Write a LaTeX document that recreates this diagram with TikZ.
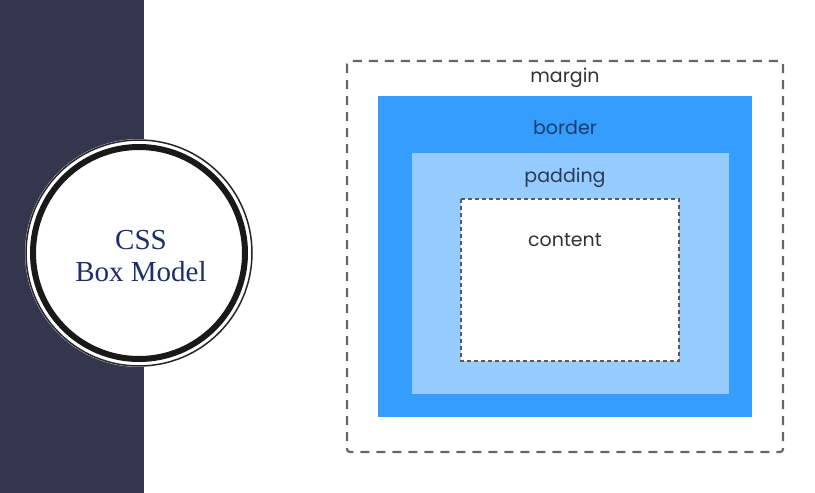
\documentclass[tikz,border=0pt]{standalone}
\usepackage{fontspec}
\setmainfont{Liberation Serif}
\newfontfamily\labelfont{Poppins}
\definecolor{panel}{HTML}{34364E}
\definecolor{borderblue}{HTML}{349DFE}
\definecolor{padblue}{HTML}{96CBFE}
\definecolor{dashgray}{HTML}{666666}
\definecolor{titleblue}{HTML}{1C2E6B}
\definecolor{labelgray}{HTML}{333333}
\definecolor{borderlabel}{HTML}{1A3E6E}
\definecolor{padlabel}{HTML}{2A3A55}
\tikzset{
  lbl/.style={font=\labelfont\fontsize{19}{22}\selectfont, anchor=center, inner sep=0pt},
}
\begin{document}
\begin{tikzpicture}[x=1pt,y=-1pt]
\useasboundingbox (0,0) rectangle (815,493);
\fill[white] (0,0) rectangle (815,493);
\fill[panel] (0,0) rectangle (144,493);
% circle
\fill[white] (139,253) circle (114);
\draw[black!85, line width=1.5pt] (139,253) circle (113);
\draw[black!90, line width=6pt] (139,253) circle (106);
\node[font=\fontsize{29}{32}\selectfont, text=titleblue, align=center] (title) at (141,256) {CSS\\Box Model};
% box model
\draw[dashgray, line width=2.2pt, dash pattern=on 9pt off 7pt, rounded corners=3pt] (347,61) rectangle (783,452);
\fill[borderblue] (378,96) rectangle (752,417);
\fill[padblue] (412,153) rectangle (729,394);
\fill[white] (461,199) rectangle (679,361);
\draw[black!65, line width=2.8pt, dash pattern=on 4pt off 3pt] (461,199) rectangle (679,361);
\node[lbl, text=labelgray] (margin) at (565,78) {margin};
\node[lbl, text=borderlabel] (border) at (565,128) {border};
\node[lbl, text=padlabel] (padding) at (565,178) {padding};
\node[lbl, text=labelgray] (content) at (565,240) {content};
\end{tikzpicture}
\end{document}
